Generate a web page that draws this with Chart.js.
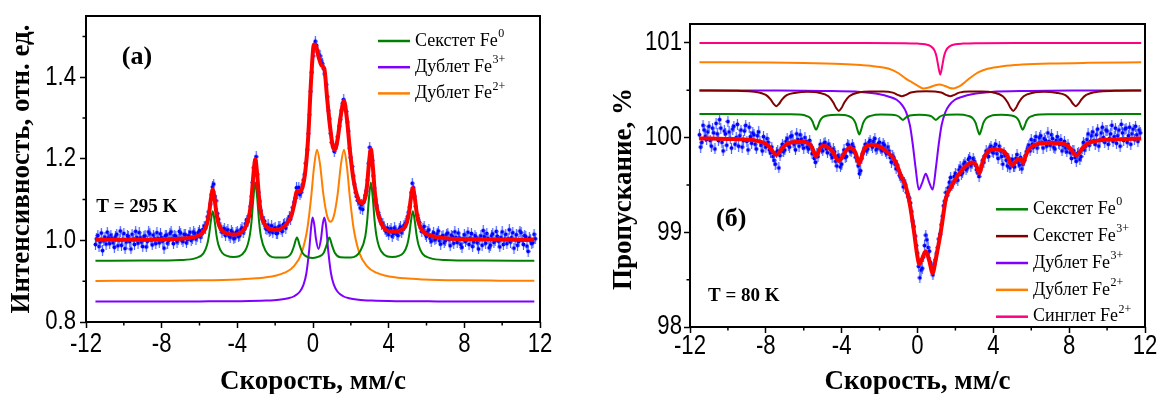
<!DOCTYPE html>
<html>
<head>
<meta charset="utf-8">
<script src="https://cdn.jsdelivr.net/npm/chart.js@4.4.1/dist/chart.umd.min.js"></script>
<style>
  html, body { margin: 0; padding: 0; background: #fff; }
  #wrap { position: relative; width: 1157px; height: 394px; overflow: hidden; }
  canvas { position: absolute; top: 0; }
  #chartA { left: 0; }
  #chartB { left: 580px; }
</style>
</head>
<body>
<div id="wrap">
  <canvas id="chartA" width="580" height="394"></canvas>
  <canvas id="chartB" width="577" height="394"></canvas>
</div>
<script>
// channel velocities, mm/s (same grid for both spectra)
const velocity = [
  -11.5,-11.4375,-11.375,-11.3125,-11.25,-11.1875,-11.125,-11.0625,
  -11,-10.9375,-10.875,-10.8125,-10.75,-10.6875,-10.625,-10.5625,-10.5,-10.4375,-10.375,-10.3125,-10.25,-10.1875,-10.125,-10.0625,
  -10,-9.9375,-9.875,-9.8125,-9.75,-9.6875,-9.625,-9.5625,-9.5,-9.4375,-9.375,-9.3125,-9.25,-9.1875,-9.125,-9.0625,
  -9,-8.9375,-8.875,-8.8125,-8.75,-8.6875,-8.625,-8.5625,-8.5,-8.4375,-8.375,-8.3125,-8.25,-8.1875,-8.125,-8.0625,
  -8,-7.9375,-7.875,-7.8125,-7.75,-7.6875,-7.625,-7.5625,-7.5,-7.4375,-7.375,-7.3125,-7.25,-7.1875,-7.125,-7.0625,
  -7,-6.9375,-6.875,-6.8125,-6.75,-6.6875,-6.625,-6.5625,-6.5,-6.4375,-6.375,-6.3125,-6.25,-6.1875,-6.125,-6.0625,
  -6,-5.9375,-5.875,-5.8125,-5.75,-5.6875,-5.625,-5.5625,-5.5,-5.4375,-5.375,-5.3125,-5.25,-5.1875,-5.125,-5.0625,
  -5,-4.9375,-4.875,-4.8125,-4.75,-4.6875,-4.625,-4.5625,-4.5,-4.4375,-4.375,-4.3125,-4.25,-4.1875,-4.125,-4.0625,
  -4,-3.9375,-3.875,-3.8125,-3.75,-3.6875,-3.625,-3.5625,-3.5,-3.4375,-3.375,-3.3125,-3.25,-3.1875,-3.125,-3.0625,
  -3,-2.9375,-2.875,-2.8125,-2.75,-2.6875,-2.625,-2.5625,-2.5,-2.4375,-2.375,-2.3125,-2.25,-2.1875,-2.125,-2.0625,
  -2,-1.9375,-1.875,-1.8125,-1.75,-1.6875,-1.625,-1.5625,-1.5,-1.4375,-1.375,-1.3125,-1.25,-1.1875,-1.125,-1.0625,
  -1,-0.9375,-0.875,-0.8125,-0.75,-0.6875,-0.625,-0.5625,-0.5,-0.4375,-0.375,-0.3125,-0.25,-0.1875,-0.125,-0.0625,
  0,0.0625,0.125,0.1875,0.25,0.3125,0.375,0.4375,0.5,0.5625,0.625,0.6875,0.75,0.8125,0.875,0.9375,
  1,1.0625,1.125,1.1875,1.25,1.3125,1.375,1.4375,1.5,1.5625,1.625,1.6875,1.75,1.8125,1.875,1.9375,
  2,2.0625,2.125,2.1875,2.25,2.3125,2.375,2.4375,2.5,2.5625,2.625,2.6875,2.75,2.8125,2.875,2.9375,
  3,3.0625,3.125,3.1875,3.25,3.3125,3.375,3.4375,3.5,3.5625,3.625,3.6875,3.75,3.8125,3.875,3.9375,
  4,4.0625,4.125,4.1875,4.25,4.3125,4.375,4.4375,4.5,4.5625,4.625,4.6875,4.75,4.8125,4.875,4.9375,
  5,5.0625,5.125,5.1875,5.25,5.3125,5.375,5.4375,5.5,5.5625,5.625,5.6875,5.75,5.8125,5.875,5.9375,
  6,6.0625,6.125,6.1875,6.25,6.3125,6.375,6.4375,6.5,6.5625,6.625,6.6875,6.75,6.8125,6.875,6.9375,
  7,7.0625,7.125,7.1875,7.25,7.3125,7.375,7.4375,7.5,7.5625,7.625,7.6875,7.75,7.8125,7.875,7.9375,
  8,8.0625,8.125,8.1875,8.25,8.3125,8.375,8.4375,8.5,8.5625,8.625,8.6875,8.75,8.8125,8.875,8.9375,
  9,9.0625,9.125,9.1875,9.25,9.3125,9.375,9.4375,9.5,9.5625,9.625,9.6875,9.75,9.8125,9.875,9.9375,
  10,10.0625,10.125,10.1875,10.25,10.3125,10.375,10.4375,10.5,10.5625,10.625,10.6875,10.75,10.8125,10.875,10.9375,
  11,11.0625,11.125,11.1875,11.25,11.3125,11.375,11.4375,11.5,11.5625,11.625,11.6875,11.75
];

// (a) T = 295 K, measured intensity
const intensity295 = [
  0.990,1.004,1.012,0.985,0.996,1.018,0.975,0.999,
  1.008,0.991,1.020,1.006,0.992,1.013,1.005,0.994,0.983,1.009,1.015,0.987,1.001,1.023,0.988,1.002,
  1.017,0.980,0.996,1.012,1.009,0.997,0.979,1.015,1.003,0.990,1.022,1.007,0.993,1.019,1.006,0.996,
  0.985,1.010,1.011,0.984,0.998,1.021,1.016,1.001,0.989,1.013,1.004,0.992,1.019,1.005,0.994,1.016,
  1.007,0.998,0.981,1.011,1.013,0.993,1.000,1.017,1.021,1.003,0.992,1.012,1.010,0.996,1.003,1.022,
  1.018,1.001,0.997,1.015,1.014,0.994,1.002,1.012,1.020,1.000,1.005,1.021,1.017,1.003,1.009,1.019,
  1.024,1.008,1.016,1.027,1.035,1.030,1.043,1.058,1.070,1.089,1.112,1.131,1.138,1.108,1.097,1.066,
  1.052,1.037,1.031,1.020,1.024,1.029,1.012,1.021,1.026,1.011,1.008,1.024,1.019,1.004,1.006,1.020,
  1.023,1.009,1.012,1.027,1.031,1.019,1.027,1.041,1.050,1.046,1.060,1.083,1.108,1.142,1.178,1.196,
  1.205,1.162,1.118,1.096,1.072,1.052,1.046,1.047,1.030,1.027,1.038,1.021,1.024,1.036,1.019,1.028,
  1.031,1.017,1.018,1.033,1.035,1.026,1.022,1.039,1.041,1.030,1.043,1.050,1.058,1.052,1.066,1.081,
  1.094,1.103,1.129,1.116,1.130,1.112,1.118,1.136,1.148,1.162,1.189,1.222,1.262,1.308,1.365,1.412,
  1.452,1.474,1.488,1.478,1.462,1.455,1.452,1.440,1.433,1.421,1.408,1.382,1.352,1.318,1.298,1.262,
  1.240,1.230,1.218,1.226,1.236,1.254,1.280,1.296,1.318,1.336,1.345,1.330,1.316,1.290,1.268,1.226,
  1.203,1.181,1.158,1.138,1.118,1.108,1.098,1.092,1.079,1.088,1.076,1.094,1.110,1.121,1.148,1.189,
  1.228,1.218,1.196,1.158,1.128,1.101,1.085,1.068,1.057,1.051,1.040,1.042,1.033,1.026,1.021,1.030,
  1.014,1.024,1.029,1.010,1.017,1.031,1.025,1.015,1.012,1.028,1.033,1.019,1.027,1.036,1.041,1.044,
  1.058,1.069,1.082,1.117,1.140,1.129,1.108,1.083,1.062,1.050,1.044,1.031,1.022,1.029,1.034,1.015,
  1.010,1.021,1.026,1.005,0.998,1.013,1.019,1.001,1.004,1.016,1.023,0.999,0.991,1.010,1.012,0.994,
  1.000,1.015,1.018,1.002,0.987,1.013,1.009,0.993,1.021,1.007,0.995,1.018,1.006,0.990,0.983,1.004,
  1.014,0.997,1.002,1.020,0.990,1.006,1.017,0.985,0.996,1.012,1.008,0.994,0.979,1.003,1.011,0.988,
  1.024,1.009,0.993,1.017,1.005,0.982,0.988,1.011,1.016,0.995,0.999,1.022,1.010,0.998,0.984,1.007,
  1.021,0.990,1.003,1.015,0.992,1.004,1.026,0.996,1.007,1.019,0.981,1.002,1.014,0.988,0.997,1.023,
  1.019,1.000,0.990,1.012,1.009,0.986,0.973,1.006,1.002,0.992,0.995,1.015,1.004
];

// (a) fit envelope
const fitAv = [-11.5,-9,-7,-6.2,-5.8,-5.6,-5.5,-5.4,-5.3,-5.2,-5.1,-5.0,-4.8,-4.2,-3.6,-3.35,-3.25,-3.15,-3.05,-2.95,-2.85,-2.75,-2.5,-2.0,-1.5,-1.15,-1.0,-0.85,-0.7,-0.55,-0.4,-0.25,-0.1,0.05,0.15,0.3,0.45,0.6,0.75,0.9,1.05,1.15,1.3,1.45,1.64,1.8,1.95,2.15,2.4,2.6,2.76,2.86,2.96,3.06,3.16,3.26,3.36,3.6,4.2,4.78,4.98,5.08,5.18,5.28,5.38,5.48,5.58,5.78,6.2,7,9,11.7];
const fitA = [1.0014,1.0017,1.004,1.0091,1.0204,1.0414,1.0645,1.1005,1.1245,1.1005,1.0645,1.042,1.0233,1.0144,1.030,1.067,1.1035,1.161,1.199,1.161,1.1035,1.067,1.0359,1.0252,1.0357,1.0595,1.0868,1.1202,1.1194,1.1309,1.1716,1.2563,1.3936,1.480,1.4776,1.4487,1.4286,1.4206,1.347,1.279,1.2293,1.2229,1.2474,1.300,1.3416,1.295,1.2211,1.1468,1.100,1.091,1.105,1.1363,1.1897,1.2238,1.1824,1.1223,1.0834,1.0428,1.0217,1.0283,1.047,1.0692,1.105,1.1285,1.1045,1.068,1.0453,1.0237,1.0121,1.0053,1.0023,1.0012];

// (a) sextet Fe0
const sexAv = [-11.5,-9,-7,-6.2,-5.8,-5.6,-5.5,-5.4,-5.3,-5.2,-5.1,-5.0,-4.8,-4.2,-3.6,-3.35,-3.25,-3.15,-3.05,-2.95,-2.85,-2.75,-2.5,-2.0,-1.5,-1.15,-1.0,-0.85,-0.7,-0.55,-0.3,0,0.3,0.56,0.71,0.86,1.01,1.16,1.45,2.0,2.5,2.76,2.86,2.96,3.06,3.16,3.26,3.36,3.6,4.2,4.78,4.98,5.08,5.18,5.28,5.38,5.48,5.58,5.78,6.2,7,9,11.7];
const sexA = [0.950,0.9505,0.952,0.9566,0.9675,0.9885,1.0115,1.0475,1.0715,1.0475,1.0115,0.989,0.9695,0.9594,0.9738,1.010,1.0465,1.104,1.142,1.104,1.046,1.009,0.974,0.958,0.958,0.9686,0.9866,1.007,0.987,0.969,0.9597,0.957,0.960,0.969,0.987,1.007,0.987,0.969,0.9585,0.958,0.974,1.009,1.046,1.104,1.142,1.104,1.0465,1.010,0.9738,0.9594,0.9695,0.989,1.0115,1.0475,1.0715,1.0475,1.0115,0.9885,0.9675,0.9566,0.952,0.9505,0.950];

// (a) doublet Fe3+
const dubA3v = [-11.5,-6,-4,-2.5,-1.8,-1.3,-1.0,-0.7,-0.5,-0.35,-0.2,-0.1,-0.02,0.07,0.15,0.29,0.43,0.51,0.60,0.70,0.80,0.95,1.10,1.30,1.60,1.90,2.40,3.10,4.60,6.6,11.7];
const dubA3 = [0.850,0.8505,0.851,0.8525,0.8546,0.8583,0.8631,0.8741,0.8915,0.9195,0.9772,1.0315,1.0559,1.0379,1.0059,0.9792,1.0059,1.0379,1.0559,1.0315,0.9772,0.9195,0.8915,0.8741,0.8631,0.8583,0.8546,0.8525,0.851,0.8505,0.850];

// (a) doublet Fe2+
const dubA2v = [-11.5,-8,-6,-4,-3,-2,-1.5,-1.0,-0.6,-0.3,-0.1,0.05,0.21,0.37,0.55,0.75,0.925,1.1,1.3,1.48,1.64,1.80,1.95,2.15,2.45,2.85,3.35,3.85,4.85,5.85,7.85,9.85,11.7];
const dubA2 = [0.9006,0.9013,0.9021,0.9043,0.9070,0.9134,0.9208,0.9371,0.9695,1.0286,1.1046,1.1778,1.2223,1.1872,1.1124,1.0595,1.0457,1.0595,1.1124,1.1872,1.2223,1.1778,1.1046,1.0286,0.9695,0.9371,0.9208,0.9134,0.9070,0.9043,0.9021,0.9013,0.9009];

// (б) T = 80 K, measured transmission, %
const transmission80 = [
  100.03,99.90,99.95,100.13,100.08,100.01,99.98,100.06,
  100.12,99.97,99.91,100.10,100.05,99.88,100.15,100.04,99.97,100.19,100.10,99.95,99.86,100.07,100.04,99.92,
  100.17,100.06,99.99,99.89,100.09,100.12,99.93,100.00,100.14,99.91,100.02,100.08,99.90,99.97,100.07,100.13,
  99.96,99.87,100.11,100.01,99.94,100.05,100.03,99.93,99.88,100.02,100.06,99.96,99.92,99.86,100.01,99.94,
  99.90,99.99,99.95,99.87,99.84,99.90,99.80,99.76,99.72,99.84,99.86,99.68,99.81,99.89,99.93,99.85,
  99.87,99.96,99.99,99.92,99.90,100.01,100.02,99.95,99.93,99.87,100.04,99.98,99.91,100.03,99.98,99.93,
  99.89,100.00,99.96,99.90,99.88,99.97,99.92,99.83,99.85,99.78,99.74,99.83,99.80,99.87,99.93,99.89,
  99.86,99.94,99.95,99.88,99.84,99.93,99.90,99.82,99.79,99.88,99.85,99.75,99.70,99.81,99.78,99.69,
  99.72,99.82,99.87,99.79,99.80,99.93,99.92,99.86,99.85,99.93,99.90,99.84,99.79,99.76,99.70,99.62,
  99.65,99.78,99.83,99.89,99.93,99.86,99.88,99.95,99.97,99.92,99.90,99.96,99.99,99.87,99.89,99.94,
  99.95,99.88,99.86,99.94,99.92,99.85,99.83,99.90,99.86,99.79,99.74,99.81,99.79,99.72,99.67,99.71,
  99.66,99.60,99.58,99.56,99.48,99.53,99.50,99.42,99.38,99.36,99.31,99.22,99.12,99.06,98.96,98.86,
  98.78,98.64,98.52,98.60,98.62,98.74,98.86,98.97,98.92,98.84,98.80,98.68,98.62,98.55,98.66,98.71,
  98.78,98.84,98.93,98.98,99.08,99.17,99.28,99.33,99.42,99.39,99.47,99.53,99.58,99.49,99.52,99.59,
  99.62,99.57,99.55,99.66,99.69,99.61,99.63,99.72,99.74,99.66,99.68,99.77,99.79,99.70,99.73,99.78,
  99.75,99.71,99.66,99.63,99.59,99.66,99.70,99.76,99.74,99.81,99.86,99.83,99.80,99.89,99.91,99.85,
  99.84,99.90,99.93,99.83,99.78,99.91,99.86,99.80,99.72,99.84,99.81,99.76,99.70,99.78,99.68,99.74,
  99.77,99.70,99.69,99.78,99.82,99.74,99.71,99.79,99.67,99.72,99.76,99.81,99.85,99.88,99.92,99.86,
  99.98,99.93,99.90,99.97,100.01,99.89,99.94,100.00,100.02,99.95,99.89,99.99,99.97,99.91,100.05,99.96,
  99.92,100.03,99.99,99.90,99.88,99.97,100.01,99.94,99.93,99.98,99.86,99.92,99.96,99.89,99.85,99.93,
  99.89,99.84,99.78,99.86,99.86,99.79,99.75,99.83,99.84,99.77,99.80,99.88,99.95,99.87,99.91,99.98,
  100.04,99.92,99.96,100.02,100.06,99.97,99.93,100.03,100.09,99.91,99.98,100.05,100.11,100.00,99.95,100.08,
  100.07,99.93,99.99,100.04,100.13,99.96,100.01,100.10,99.94,100.02,100.08,99.91,100.14,100.05,99.97,100.09,
  100.10,99.95,100.02,100.11,99.93,100.04,100.09,99.98,100.12,100.03,99.96,100.08,100.05
];

// (б) fit envelope
const fitBv = [-11.5,-10,-9,-8.4,-8.0,-7.75,-7.6,-7.45,-7.3,-7.15,-6.9,-6.4,-5.95,-5.7,-5.55,-5.45,-5.35,-5.25,-5.15,-5.0,-4.75,-4.45,-4.3,-4.15,-4.0,-3.85,-3.6,-3.42,-3.27,-3.17,-3.07,-2.97,-2.87,-2.72,-2.4,-2.0,-1.6,-1.2,-0.9,-0.6,-0.4,-0.2,0.0,0.1,0.25,0.44,0.62,0.8,0.95,1.1,1.2,1.3,1.5,1.75,2.1,2.5,2.87,3.07,3.17,3.27,3.37,3.47,3.7,4.0,4.5,4.75,4.9,5.0,5.15,5.3,5.45,5.58,5.7,5.85,6.2,7.0,7.8,8.08,8.23,8.38,8.53,8.68,8.93,9.5,10.5,11.8];
const fitB = [99.992,99.9855,99.978,99.9635,99.936,99.887,99.843,99.8165,99.841,99.885,99.9325,99.9545,99.954,99.9315,99.891,99.839,99.7995,99.836,99.8855,99.9115,99.9015,99.8455,99.787,99.7525,99.7845,99.8395,99.89,99.8835,99.841,99.778,99.728,99.7815,99.85,99.902,99.924,99.9045,99.848,99.76,99.614,99.47,99.29,99.03,98.74,98.662,98.726,98.80,98.70,98.57,98.70,98.86,98.97,99.10,99.36,99.47,99.59,99.69,99.736,99.719,99.666,99.626,99.688,99.768,99.85,99.874,99.8625,99.8025,99.728,99.712,99.736,99.77,99.774,99.73,99.802,99.87,99.924,99.946,99.928,99.882,99.838,99.8125,99.839,99.883,99.931,99.9685,99.9815,99.99];

// (б) sextet Fe0
const sexB0v = [-11.5,-8,-6.7,-5.95,-5.7,-5.55,-5.45,-5.35,-5.25,-5.15,-5.0,-4.75,-4.2,-3.67,-3.42,-3.27,-3.17,-3.07,-2.97,-2.87,-2.72,-2.47,-1.9,-1.37,-1.12,-0.97,-0.87,-0.77,-0.67,-0.57,-0.4,0.1,0.6,0.77,0.87,0.97,1.07,1.17,1.32,1.57,2.1,2.67,2.92,3.07,3.17,3.27,3.37,3.47,3.62,3.87,4.4,4.95,5.2,5.35,5.45,5.55,5.65,5.75,5.9,6.15,6.9,8.2,11.8];
const sexB0 = [100.249,100.247,100.2465,100.2354,100.2145,100.175,100.123,100.0835,100.123,100.175,100.214,100.234,100.2407,100.230,100.203,100.152,100.084,100.033,100.084,100.152,100.203,100.230,100.2435,100.242,100.2345,100.220,100.201,100.187,100.201,100.220,100.2345,100.242,100.2345,100.220,100.201,100.187,100.201,100.220,100.2345,100.242,100.2435,100.230,100.203,100.152,100.084,100.033,100.084,100.152,100.203,100.230,100.2407,100.234,100.214,100.175,100.123,100.0835,100.123,100.175,100.2145,100.2354,100.2465,100.247,100.249];

// (б) sextet Fe3+
const sexB3v = [-11.5,-9.5,-8.6,-8.0,-7.75,-7.6,-7.45,-7.3,-7.15,-6.9,-6.4,-5.8,-5.2,-4.7,-4.45,-4.3,-4.15,-4.0,-3.85,-3.6,-3.1,-2.5,-1.8,-1.3,-1.0,-0.83,-0.65,-0.35,0.45,1.25,1.55,1.73,1.9,2.2,2.7,3.4,4.0,4.5,4.75,4.9,5.05,5.2,5.35,5.6,6.1,6.7,7.3,7.8,8.05,8.2,8.35,8.5,8.65,8.9,9.5,10.4,11.8];
const sexB3 = [100.498,100.494,100.4845,100.4505,100.403,100.359,100.3325,100.358,100.402,100.449,100.475,100.4837,100.4746,100.436,100.374,100.316,100.2825,100.316,100.374,100.437,100.477,100.488,100.4884,100.4756,100.4485,100.437,100.4485,100.476,100.489,100.476,100.4485,100.437,100.4485,100.4756,100.4884,100.488,100.477,100.437,100.374,100.316,100.2825,100.316,100.374,100.436,100.4746,100.4837,100.475,100.449,100.402,100.358,100.3325,100.359,100.403,100.4505,100.4845,100.494,100.498];

// (б) doublet Fe3+
const dubB3v = [-11.5,-8,-5,-3,-2,-1.5,-1.1,-0.8,-0.6,-0.4,-0.25,-0.1,0.07,0.25,0.435,0.62,0.8,0.97,1.12,1.27,1.47,1.67,1.97,2.37,2.87,3.87,5.87,8.87,11.8];
const dubB3 = [100.498,100.497,100.493,100.482,100.458,100.432,100.40,100.34,100.27,100.13,99.93,99.68,99.452,99.525,99.618,99.525,99.452,99.68,99.93,100.13,100.27,100.34,100.40,100.432,100.458,100.482,100.493,100.497,100.498];

// (б) doublet Fe2+
const dubB2v = [-11.5,-8,-6,-4,-3,-2.2,-1.5,-1.0,-0.6,-0.3,0,0.3,0.6,0.9,1.15,1.45,1.7,1.9,2.2,2.5,2.8,3.2,3.7,4.5,5.5,7,9,11.8];
const dubB2 = [100.797,100.793,100.788,100.777,100.766,100.752,100.727,100.68,100.62,100.585,100.55,100.52,100.53,100.55,100.56,100.545,100.525,100.52,100.54,100.585,100.635,100.69,100.727,100.755,100.771,100.783,100.79,100.795];

// (б) singlet Fe2+
const sinB2v = [-11.5,-6,-3,-0.8,0,0.4,0.7,0.9,1.0,1.1,1.2,1.3,1.4,1.5,1.7,2.0,2.4,3.2,5.2,11.8];
const sinB2 = [101.0,100.9998,100.9995,100.9976,100.9934,100.9855,100.965,100.919,100.860,100.751,100.665,100.751,100.860,100.919,100.965,100.9855,100.9934,100.9976,100.9995,101.0];

const minorX = [-10, -6, -2, 2, 6, 10];
const minorYA = [0.9, 1.1, 1.3, 1.5];
const minorYB = [98.5, 99.5, 100.5];

const serif = "'Liberation Serif', 'Times New Roman', serif";
const sans = "'Liberation Sans', Arial, sans-serif";

const pts = (xs, ys) => xs.map((v, i) => ({ x: v, y: ys[i] }));

// dot with a vertical error bar, used as the point glyph of the measured spectrum
function makeDot() {
  const c = document.createElement('canvas');
  c.width = 5; c.height = 11;
  const g = c.getContext('2d');
  g.strokeStyle = 'rgba(40,70,255,0.85)';
  g.lineWidth = 1.2;
  g.beginPath(); g.moveTo(2.5, 0); g.lineTo(2.5, 11); g.stroke();
  g.fillStyle = '#0000ff';
  g.beginPath(); g.arc(2.5, 5.5, 2, 0, Math.PI * 2); g.fill();
  return c;
}
const dot = makeDot();

function curve(label, sup, color, xs, ys, width) {
  return {
    label, sup,
    data: pts(xs, ys),
    showLine: true,
    borderColor: color,
    backgroundColor: color,
    borderWidth: width,
    pointRadius: 0,
    cubicInterpolationMode: 'monotone',
    fill: false
  };
}

function measured(ys) {
  return { label: 'data', data: pts(velocity, ys), showLine: false, pointStyle: dot, pointRadius: 3 };
}

// condensed tick label (the axis numbers are set in a narrow face)
function narrowText(ctx, text, x, y, align) {
  ctx.save();
  ctx.translate(x, y);
  ctx.scale(0.82, 1);
  ctx.textAlign = align;
  ctx.fillText(text, 0, 0);
  ctx.restore();
}

// frame, minor ticks, tick labels, component legend and text notes
const panelDecor = {
  id: 'panelDecor',
  afterDatasetsDraw(chart, args, o) {
    const { ctx, chartArea: a, scales: { x, y } } = chart;
    ctx.save();
    ctx.strokeStyle = '#000';
    ctx.lineWidth = 2;
    ctx.strokeRect(a.left, a.top, a.right - a.left, a.bottom - a.top);

    ctx.lineWidth = 1.5;
    ctx.beginPath();
    o.minorX.forEach(v => {
      const px = x.getPixelForValue(v);
      ctx.moveTo(px, a.bottom); ctx.lineTo(px, a.bottom + 3.5);
    });
    o.minorY.forEach(v => {
      const py = y.getPixelForValue(v);
      ctx.moveTo(a.left, py); ctx.lineTo(a.left - 3.5, py);
    });
    ctx.stroke();

    ctx.fillStyle = '#000';
    ctx.textBaseline = 'middle';
    ctx.font = '27px ' + sans;
    x.ticks.forEach(t => {
      narrowText(ctx, String(t.value), x.getPixelForValue(t.value), a.bottom + o.xLabelGap, 'center');
    });
    y.ticks.forEach(t => {
      narrowText(ctx, o.yFmt(t.value), a.left - o.yLabelGap, y.getPixelForValue(t.value), 'right');
    });

    let row = 0;
    chart.data.datasets.forEach(ds => {
      if (!ds.sup) return;
      const lx = a.left + o.legend.left;
      const ly = a.top + o.legend.top + row * o.legend.step;
      ctx.strokeStyle = ds.borderColor;
      ctx.lineWidth = 2.5;
      ctx.beginPath(); ctx.moveTo(lx, ly); ctx.lineTo(lx + 32, ly); ctx.stroke();
      ctx.fillStyle = '#000';
      ctx.textAlign = 'left';
      ctx.textBaseline = 'middle';
      ctx.font = '18px ' + serif;
      const tx = lx + 37;
      ctx.fillText(ds.label, tx, ly);
      const w = ctx.measureText(ds.label).width;
      ctx.font = '12px ' + serif;
      ctx.fillText(ds.sup, tx + w + 0.5, ly - 7);
      row++;
    });

    o.notes.forEach(n => {
      ctx.font = n.font;
      ctx.fillStyle = '#000';
      ctx.textAlign = 'left';
      ctx.textBaseline = 'middle';
      ctx.fillText(n.text, x.getPixelForValue(n.x), y.getPixelForValue(n.y));
    });
    ctx.restore();
  }
};

const titleFont = { family: serif, size: 27, weight: 'bold', lineHeight: 0.85 };
const tickGrid = { drawOnChartArea: false, tickLength: 6, tickWidth: 1.5, tickColor: '#000' };
const noPad = s => { s.paddingLeft = 0; s.paddingRight = 0; s.paddingTop = 0; s.paddingBottom = 0; };

function options(p) {
  return {
    responsive: false,
    animation: false,
    events: [],
    layout: { padding: p.padding },
    plugins: { legend: { display: false }, tooltip: { enabled: false }, panelDecor: p.decor },
    scales: {
      x: {
        type: 'linear', min: -12, max: 12,
        afterFit: s => { s.height = p.xHeight; noPad(s); },
        ticks: { display: false, stepSize: 4, includeBounds: false, autoSkip: false },
        grid: tickGrid,
        border: { display: false },
        title: { display: true, text: 'Скорость, мм/с', font: titleFont, color: '#000', padding: 0 }
      },
      y: {
        type: 'linear', min: p.yMin, max: p.yMax,
        afterFit: s => { s.width = p.yWidth; noPad(s); },
        ticks: { display: false, stepSize: p.yStep, includeBounds: false, autoSkip: false },
        grid: tickGrid,
        border: { display: false },
        title: { display: true, text: p.yTitle, font: titleFont, color: '#000', padding: { top: p.yTitlePad } }
      }
    }
  };
}

new Chart(document.getElementById('chartA'), {
  type: 'scatter',
  data: {
    datasets: [
      curve('fit', '', '#ff0000', fitAv, fitA, 4),
      measured(intensity295),
      curve('Секстет Fe', '0', '#008000', sexAv, sexA, 2),
      curve('Дублет Fe', '3+', '#8000ff', dubA3v, dubA3, 2),
      curve('Дублет Fe', '2+', '#ff8000', dubA2v, dubA2, 2)
    ]
  },
  options: options({
    padding: { left: 0, right: 40, top: 16, bottom: 0 },
    xHeight: 72, yWidth: 86, yTitlePad: 10.5,
    yMin: 0.8, yMax: 1.55, yStep: 0.2,
    yTitle: 'Интенсивность, отн. ед.',
    decor: {
      minorX: minorX, minorY: minorYA,
      xLabelGap: 23, yLabelGap: 10, yFmt: v => v.toFixed(1),
      legend: { left: 292, top: 25, step: 26.2 },
      notes: [
        { text: '(a)', x: -10.11, y: 1.449, font: 'bold 26px ' + serif },
        { text: 'T = 295 K', x: -11.46, y: 1.082, font: 'bold 19px ' + serif }
      ]
    }
  }),
  plugins: [panelDecor]
});

new Chart(document.getElementById('chartB'), {
  type: 'scatter',
  data: {
    datasets: [
      curve('fit', '', '#ff0000', fitBv, fitB, 4),
      measured(transmission80),
      curve('Секстет Fe', '0', '#008000', sexB0v, sexB0, 2),
      curve('Секстет Fe', '3+', '#800000', sexB3v, sexB3, 2),
      curve('Дублет Fe', '3+', '#8000ff', dubB3v, dubB3, 2),
      curve('Дублет Fe', '2+', '#ff8000', dubB2v, dubB2, 2),
      curve('Синглет Fe', '2+', '#ff0080', sinB2v, sinB2, 2)
    ]
  },
  options: options({
    padding: { left: 0, right: 12, top: 24, bottom: 0 },
    xHeight: 67, yWidth: 110, yTitlePad: 32.5,
    yMin: 98, yMax: 101.2, yStep: 1,
    yTitle: 'Пропускание, %\u2002\u2002',
    decor: {
      minorX: minorX, minorY: minorYB,
      xLabelGap: 19.5, yLabelGap: 8, yFmt: v => String(v),
      legend: { left: 306, top: 185.3, step: 26.85 },
      notes: [
        { text: '(б)', x: -10.63, y: 99.14, font: 'bold 26px ' + serif },
        { text: 'T = 80 K', x: -11.05, y: 98.325, font: 'bold 19px ' + serif }
      ]
    }
  }),
  plugins: [panelDecor]
});
</script>
</body>
</html>
